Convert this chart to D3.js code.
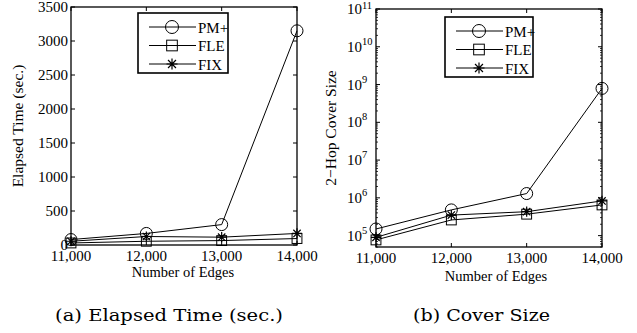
<!DOCTYPE html>
<html>
<head>
<meta charset="utf-8">
<script src="https://cdn.jsdelivr.net/npm/d3@7"></script>
<style>
  body { margin: 0; background: #fff; }
</style>
</head>
<body>
<div id="chart"></div>
<script>
// --- data ---
const edges = [11000, 12000, 13000, 14000];
const seriesNames = ["PM+", "FLE", "FIX"];
const markers = ["circle", "square", "star"];

// elapsed time (sec.)
const timePM = [80, 170, 300, 3150];
const timeFLE = [30, 55, 65, 95];
const timeFIX = [55, 125, 115, 170];

// 2-hop cover size
const coverPM = [1.5e5, 4.8e5, 1.3e6, 7.9e8];
const coverFLE = [7.7e4, 2.6e5, 3.7e5, 6.5e5];
const coverFIX = [9.0e4, 3.5e5, 4.3e5, 8.3e5];

const timeTicks = [0, 500, 1000, 1500, 2000, 2500, 3000, 3500];
const coverTicks = [1e5, 1e6, 1e7, 1e8, 1e9, 1e10, 1e11];

const SERIF = "'Liberation Serif', 'Times New Roman', serif";
const CAPTION = "'DejaVu Serif', serif";

const svg = d3.select("#chart").append("svg")
  .attr("width", 637)
  .attr("height", 333);

const fmtEdge = d3.format(",");

function txt(g, x, y, size, s) {
  return g.append("text").attr("x", x).attr("y", y)
    .attr("font-family", SERIF).attr("font-size", size).attr("fill", "#000").text(s);
}

function drawMarker(g, type, x, y, s) {
  if (type === "circle") {
    g.append("circle").attr("cx", x).attr("cy", y).attr("r", s)
      .attr("fill", "none").attr("stroke", "#000").attr("stroke-width", 1);
  } else if (type === "square") {
    const h = s * 0.82;
    g.append("rect").attr("x", x - h).attr("y", y - h).attr("width", 2 * h).attr("height", 2 * h)
      .attr("fill", "none").attr("stroke", "#000").attr("stroke-width", 1);
  } else {
    const r = s * 0.85;
    const p = d3.path();
    p.moveTo(x - r, y); p.lineTo(x + r, y);
    p.moveTo(x, y - r); p.lineTo(x, y + r);
    const d = r * 0.72;
    p.moveTo(x - d, y - d); p.lineTo(x + d, y + d);
    p.moveTo(x - d, y + d); p.lineTo(x + d, y - d);
    g.append("path").attr("d", p.toString()).attr("stroke", "#000").attr("stroke-width", 1.2);
  }
}

function panel(opts) {
  const { left, top, right, bottom, y, series, yTicks, yFmt, log, ylabel, ylabelX, xlabelX, xlabelY, legend } = opts;
  const g = svg.append("g");
  const x = d3.scaleLinear().domain([11000, 14000]).range([left, right]);
  y.range([bottom, top]);

  // ticks (inward) on all four sides
  const tl = 4;
  edges.forEach(e => {
    g.append("line").attr("x1", x(e)).attr("x2", x(e)).attr("y1", bottom).attr("y2", bottom - tl).attr("stroke", "#000");
    g.append("line").attr("x1", x(e)).attr("x2", x(e)).attr("y1", top).attr("y2", top + tl).attr("stroke", "#000");
    txt(g, x(e), bottom + 16, 15, fmtEdge(e)).attr("text-anchor", "middle");
  });
  yTicks.forEach(t => {
    g.append("line").attr("x1", left).attr("x2", left + tl).attr("y1", y(t)).attr("y2", y(t)).attr("stroke", "#000");
    g.append("line").attr("x1", right).attr("x2", right - tl).attr("y1", y(t)).attr("y2", y(t)).attr("stroke", "#000");
  });
  if (log) {
    const [lo, hi] = y.domain();
    for (let dec = 1e4; dec < hi; dec *= 10) {
      for (let k = 2; k <= 9; k++) {
        const v = dec * k;
        if (v < lo || v > hi) continue;
        g.append("line").attr("x1", left).attr("x2", left + 2).attr("y1", y(v)).attr("y2", y(v)).attr("stroke", "#000").attr("stroke-width", 0.8);
        g.append("line").attr("x1", right).attr("x2", right - 2).attr("y1", y(v)).attr("y2", y(v)).attr("stroke", "#000").attr("stroke-width", 0.8);
      }
    }
    yTicks.forEach(t => {
      txt(g, left - 14, y(t) + 5, 15, "10").attr("text-anchor", "end");
      txt(g, left - 14, Math.max(y(t) - 2, 9), 10.5, Math.round(Math.log10(t)));
    });
  } else {
    yTicks.forEach(t => {
      txt(g, left - 3, y(t) + 5, 15, yFmt(t)).attr("text-anchor", "end");
    });
  }

  // series lines and markers
  const line = d3.line().x((d, i) => x(edges[i])).y(d => y(d));
  series.forEach((vals, si) => {
    g.append("path").attr("d", line(vals)).attr("fill", "none").attr("stroke", "#000").attr("stroke-width", 1);
    vals.forEach((v, i) => drawMarker(g, markers[si], x(edges[i]), y(v), 6));
  });

  // box
  g.append("rect").attr("x", left).attr("y", top).attr("width", right - left).attr("height", bottom - top)
    .attr("fill", "none").attr("stroke", "#000").attr("stroke-width", 1.3);

  // legend
  const lg = g.append("g");
  lg.append("rect").attr("x", legend.x).attr("y", legend.y).attr("width", legend.w).attr("height", legend.h)
    .attr("fill", "#fff").attr("stroke", "#000").attr("stroke-width", 1.6);
  seriesNames.forEach((name, i) => {
    const ly = legend.y + 14 + i * 18.5;
    lg.append("line").attr("x1", legend.x + 11).attr("x2", legend.x + 58).attr("y1", ly).attr("y2", ly).attr("stroke", "#000");
    drawMarker(lg, markers[i], legend.x + 34, ly, 6.5);
    txt(lg, legend.x + 60, ly + 5.5, 15, name);
  });

  // axis labels
  txt(g, 0, 0, 15.5, ylabel).attr("text-anchor", "middle")
    .attr("transform", `translate(${ylabelX},${(top + bottom) / 2}) rotate(-90)`);
  txt(g, xlabelX, xlabelY, 14.5, "Number of Edges").attr("text-anchor", "middle");
}

panel({
  left: 71, top: 7, right: 297, bottom: 245,
  y: d3.scaleLinear().domain([0, 3500]),
  series: [timePM, timeFLE, timeFIX],
  yTicks: timeTicks, yFmt: d3.format("d"), log: false,
  ylabel: "Elapsed Time (sec.)", ylabelX: 23, xlabelX: 183, xlabelY: 277,
  legend: { x: 138, y: 13, w: 90, h: 60 }
});

panel({
  left: 376, top: 9, right: 602, bottom: 247,
  y: d3.scaleLog().domain([5e4, 1e11]),
  series: [coverPM, coverFLE, coverFIX],
  yTicks: coverTicks, log: true,
  ylabel: "2\u2212Hop Cover Size", ylabelX: 336, xlabelX: 496, xlabelY: 281,
  legend: { x: 445, y: 17, w: 88, h: 60 }
});

svg.append("text").attr("x", 55).attr("y", 321).attr("font-family", CAPTION).attr("font-size", 16.5)
  .attr("textLength", 228).attr("lengthAdjust", "spacingAndGlyphs").text("(a) Elapsed Time (sec.)");
svg.append("text").attr("x", 413).attr("y", 321).attr("font-family", CAPTION).attr("font-size", 16.5)
  .attr("textLength", 137).attr("lengthAdjust", "spacingAndGlyphs").text("(b) Cover Size");
</script>
</body>
</html>
